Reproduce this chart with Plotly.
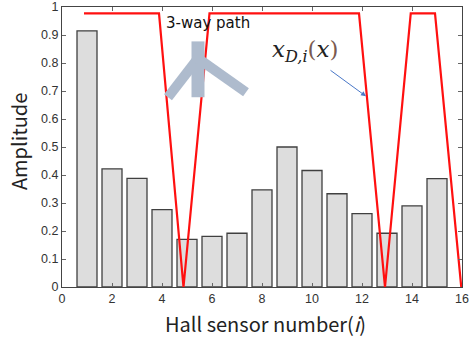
import plotly.graph_objects as go

sensors = list(range(1, 16))
amplitude = [0.915, 0.422, 0.388, 0.276, 0.170, 0.181, 0.192, 0.347, 0.500,
             0.416, 0.333, 0.262, 0.192, 0.290, 0.387]
path_x = [0.88, 3.88, 4.86, 5.9, 11.88, 12.92, 13.95, 14.92, 15.97]
path_y = [0.977, 0.977, 0.0, 0.977, 0.977, 0.0, 0.977, 0.977, 0.0]
x_ticks = [0, 2, 4, 6, 8, 10, 12, 14, 16]
y_ticks = [0, 0.1, 0.2, 0.3, 0.4, 0.5, 0.6, 0.7, 0.8, 0.9, 1]
y_labels = ["0", "0.1", "0.2", "0.3", "0.4", "0.5", "0.6", "0.7", "0.8", "0.9", "1"]

L, R, T, B = 62, 462, 6.5, 287.3
W, H = 471, 339
PW, PH = R - L, B - T


def px(x):
    return (x - L) / PW


def py(y):
    return (B - y) / PH


fig = go.Figure()
fig.add_trace(go.Bar(x=sensors, y=amplitude, width=0.8,
                     marker=dict(color="#DDDDDD", line=dict(color="#404040", width=1.3)),
                     showlegend=False, hoverinfo="skip"))
fig.add_trace(go.Scatter(x=path_x, y=path_y, mode="lines",
                         line=dict(color="#FF1010", width=2.2), showlegend=False,
                         hoverinfo="skip"))

axis_common = dict(showline=True, linecolor="#444444", linewidth=1, mirror="ticks",
                   ticks="inside", ticklen=4, tickcolor="#666666", showgrid=False,
                   zeroline=False, automargin=False, fixedrange=True,
                   tickfont=dict(family="Liberation Sans", size=12.5, color="#333333"))

fig.update_xaxes(range=[0, 16], tickvals=x_ticks, **axis_common)
fig.update_yaxes(range=[0, 1], tickvals=y_ticks, ticktext=y_labels,
                 ticklabeloverflow="allow", **axis_common)

# axis titles
fig.add_annotation(xref="paper", yref="paper", x=px(265), y=py(324),
                   text="Hall sensor number(<i>i</i>)", showarrow=False,
                   xanchor="center", yanchor="middle",
                   font=dict(family="Noto Sans CJK KR", size=20, color="#222222"))
fig.add_annotation(xref="paper", yref="paper", x=px(18), y=py(142),
                   text="Amplitude", showarrow=False, textangle=-90,
                   xanchor="center", yanchor="middle",
                   font=dict(family="Noto Sans CJK KR", size=20, color="#222222"))

# "人" shaped 3-way path glyph
glyph_color = "#AEBBCD"
fig.add_shape(type="line", xref="paper", yref="paper",
              x0=px(198), x1=px(198), y0=py(41), y1=py(97),
              line=dict(color=glyph_color, width=13))
fig.add_shape(type="line", xref="paper", yref="paper",
              x0=px(198), x1=px(168), y0=py(58), y1=py(97),
              line=dict(color=glyph_color, width=10))
fig.add_shape(type="line", xref="paper", yref="paper",
              x0=px(198), x1=px(246), y0=py(58), y1=py(92),
              line=dict(color=glyph_color, width=10))

fig.add_annotation(xref="paper", yref="paper", x=px(164), y=py(23),
                   text="3-way path", showarrow=False, xanchor="left", yanchor="middle",
                   font=dict(family="DejaVu Sans", size=15, color="#111111"))

fig.add_annotation(xref="paper", yref="paper", x=px(270), y=py(51),
                   text="<i>x</i><sub><i>D,i</i></sub><span style='color:#7a5a50'>(</span><i>x</i><span style='color:#7a5a50'>)</span>",
                   showarrow=False, xanchor="left", yanchor="middle",
                   font=dict(family="DejaVu Serif", size=23, color="#222222"))

fig.add_annotation(xref="paper", yref="paper", axref="pixel", ayref="pixel",
                   x=px(366), y=py(96), ax=-37, ay=-27,
                   text="", showarrow=True, arrowhead=2, arrowsize=1, arrowwidth=1,
                   arrowcolor="#4A78C8")

fig.update_layout(width=W, height=H, margin=dict(l=L, r=W - R, t=T, b=H - B),
                  plot_bgcolor="white", paper_bgcolor="white", bargap=0.2,
                  hovermode=False, dragmode=False)

fig.write_html("out.html", config={"displayModeBar": False, "staticPlot": True},
               post_script="document.body.style.margin='0';document.body.style.overflow='hidden';")
